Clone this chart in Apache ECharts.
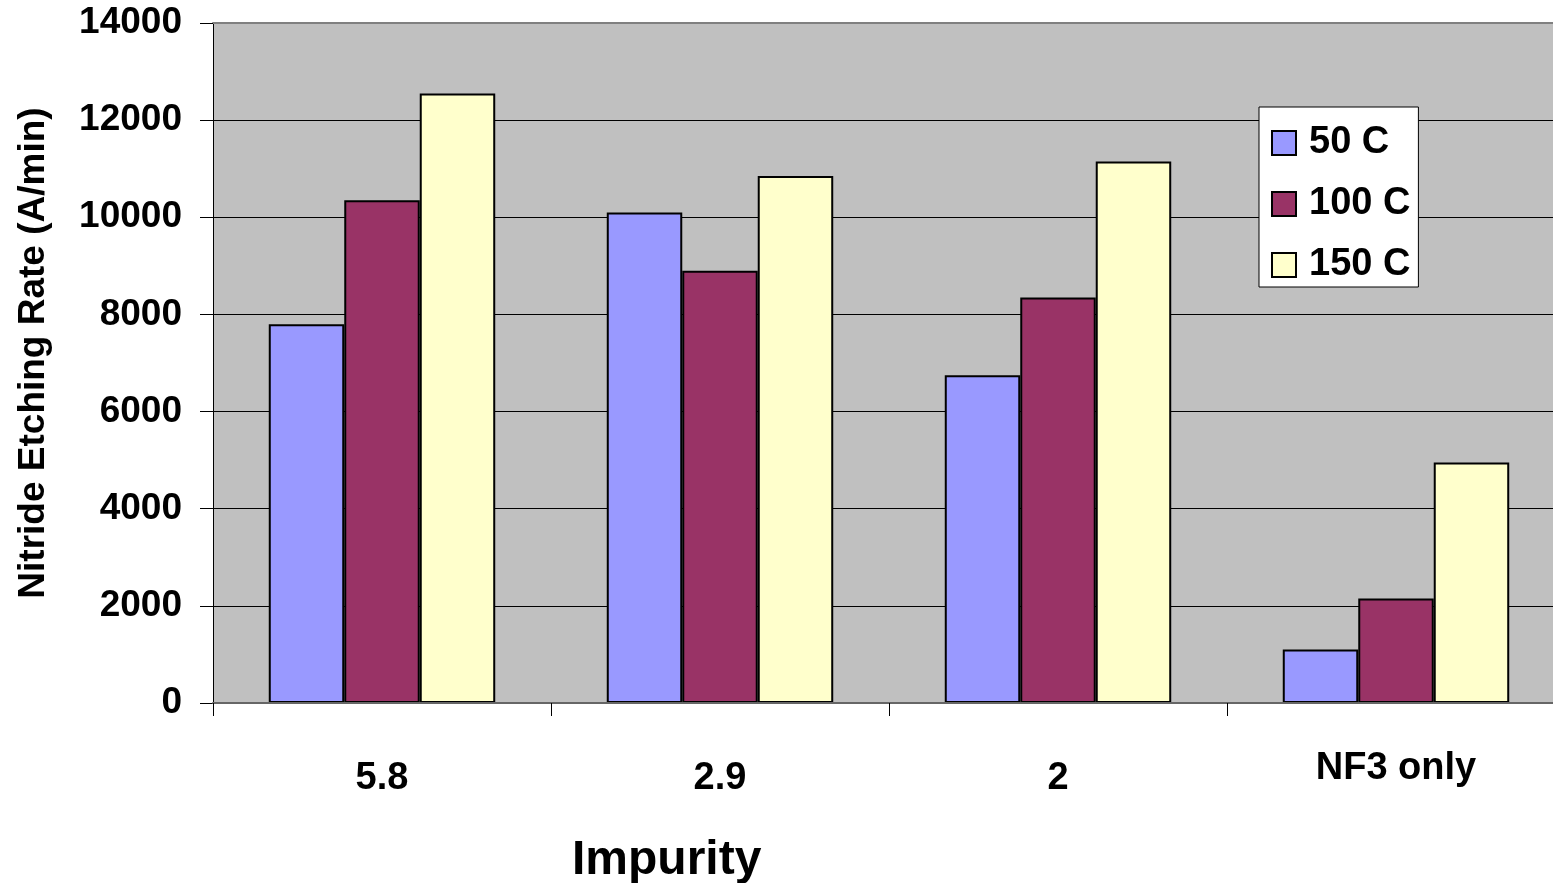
<!DOCTYPE html>
<html>
<head>
<meta charset="utf-8">
<script src="https://cdn.jsdelivr.net/npm/echarts@6/dist/echarts.min.js"></script>
<style>
html,body{margin:0;padding:0;background:#fff;overflow:hidden;width:1553px;height:883px;}
#chart{width:1570px;height:883px;}
</style>
</head>
<body>
<div id="chart"></div>
<script>
const categories = ['5.8', '2.9', '2', 'NF3 only'];
const seriesNames = ['50 C', '100 C', '150 C'];
const values50 = [7800, 10100, 6750, 1100];
const values100 = [10350, 8900, 8350, 2150];
const values150 = [12550, 10850, 11150, 4950];
const yTicks = [0, 2000, 4000, 6000, 8000, 10000, 12000, 14000];
const colors = ['#9999FF', '#993366', '#FFFFCC'];
const labelShift = [10, 10, 10, 0];

const chart = echarts.init(document.getElementById('chart'), null, {renderer: 'canvas'});
const font = 'Liberation Sans, Arial, sans-serif';
const seriesData = [values50, values100, values150];

chart.setOption({
  animation: false,
  backgroundColor: '#ffffff',
  title: {
    text: 'Impurity',
    left: 572,
    top: 837,
    padding: 0,
    textStyle: {fontFamily: font, fontSize: 48, fontWeight: 'bold', color: '#000'}
  },
  legend: {
    orient: 'vertical',
    left: 1259,
    top: 107,
    backgroundColor: '#ffffff',
    borderColor: '#000',
    borderWidth: 1,
    borderRadius: 0,
    padding: [17, 8, 3, 12],
    itemGap: 23,
    itemWidth: 24,
    itemHeight: 24,
    icon: 'rect',
    textStyle: {fontFamily: font, fontSize: 38, fontWeight: 'bold', color: '#000', padding: [0, 0, 0, 8]},
    data: seriesNames
  },
  grid: {
    left: 213,
    top: 23,
    right: 5,
    height: 680,
    show: true,
    backgroundColor: '#C0C0C0',
    borderWidth: 0,
    containLabel: false
  },
  xAxis: [{
    type: 'category',
    data: categories.map((c, i) => ({value: c, textStyle: {padding: [labelShift[i], 0, 0, 0]}})),
    boundaryGap: true,
    axisLine: {show: true, lineStyle: {color: '#666666', width: 2}},
    axisTick: {show: true, length: 13, alignWithLabel: false, lineStyle: {color: '#000', width: 1}},
    axisLabel: {margin: 47, fontFamily: font, fontSize: 38, fontWeight: 'bold', color: '#000', interval: 0},
    splitLine: {show: false},
    z: 5
  }, {
    type: 'category',
    position: 'top',
    data: categories,
    axisLine: {show: true, lineStyle: {color: '#808080', width: 2}},
    axisTick: {show: false},
    axisLabel: {show: false},
    splitLine: {show: false}
  }],
  yAxis: {
    type: 'value',
    min: yTicks[0],
    max: yTicks[yTicks.length - 1],
    interval: yTicks[1] - yTicks[0],
    name: 'Nitride Etching Rate (A/min)',
    nameLocation: 'middle',
    nameRotate: 90,
    nameGap: 161,
    nameTextStyle: {fontFamily: font, fontSize: 37, fontWeight: 'bold', color: '#000', padding: [0, 0, 0, 20]},
    axisLine: {show: true, lineStyle: {color: '#000', width: 1}},
    axisTick: {show: true, length: 13, lineStyle: {color: '#000', width: 1}},
    axisLabel: {margin: 31, fontFamily: font, fontSize: 37, fontWeight: 'bold', color: '#000', formatter: v => String(v)},
    splitLine: {show: true, lineStyle: {color: '#000', width: 1}}
  },
  series: seriesNames.map((name, i) => ({
    name: name,
    type: 'bar',
    xAxisIndex: 0,
    data: seriesData[i],
    barGap: '0%',
    barCategoryGap: '33%',
    itemStyle: {color: colors[i], borderColor: '#000', borderWidth: 2}
  }))
});
</script>
</body>
</html>
